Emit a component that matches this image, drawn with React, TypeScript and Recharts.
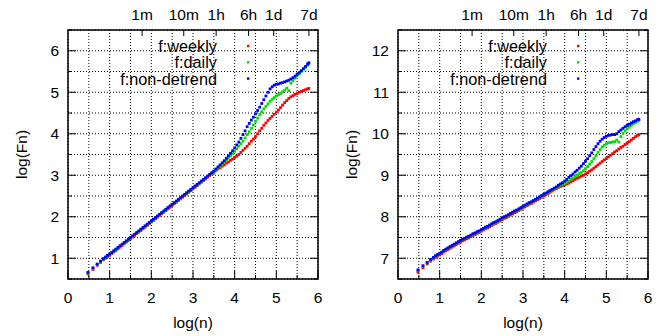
import React from 'react';
import { ScatterChart, Scatter, XAxis, YAxis, CartesianGrid, ReferenceArea } from 'recharts';

// log(n) sample positions
const LOGN = [0.48, 0.6, 0.7, 0.78, 0.85, 0.9, 0.95,
  1.0, 1.05, 1.1, 1.15, 1.2, 1.25, 1.3, 1.35, 1.4, 1.45,
  1.5, 1.55, 1.6, 1.65, 1.7, 1.75, 1.8, 1.85, 1.9, 1.95,
  2.0, 2.05, 2.1, 2.15, 2.2, 2.25, 2.3, 2.35, 2.4, 2.45,
  2.5, 2.55, 2.6, 2.65, 2.7, 2.75, 2.8, 2.85, 2.9, 2.95,
  3.0, 3.05, 3.1, 3.15, 3.2, 3.25, 3.3, 3.35, 3.4, 3.45,
  3.5, 3.55, 3.6, 3.65, 3.7, 3.75, 3.8, 3.85, 3.9, 3.95,
  4.0, 4.05, 4.1, 4.15, 4.2, 4.25, 4.3, 4.35, 4.4, 4.45,
  4.5, 4.55, 4.6, 4.65, 4.7, 4.75, 4.8, 4.85, 4.9, 4.95,
  5.0, 5.05, 5.1, 5.15, 5.2, 5.25, 5.3, 5.35, 5.4, 5.45,
  5.5, 5.55, 5.6, 5.65, 5.7, 5.75,
  5.78];

// Left panel
const LEFT_WEEKLY = [0.62, 0.73, 0.83, 0.90, 0.96, 1.00, 1.04,
  1.07, 1.11, 1.15, 1.19, 1.23, 1.27, 1.31, 1.35, 1.39, 1.43,
  1.47, 1.51, 1.55, 1.59, 1.63, 1.67, 1.71, 1.75, 1.79, 1.83,
  1.87, 1.91, 1.95, 1.99, 2.03, 2.07, 2.11, 2.15, 2.19, 2.23,
  2.27, 2.31, 2.35, 2.39, 2.43, 2.47, 2.51, 2.55, 2.59, 2.63,
  2.67, 2.71, 2.75, 2.79, 2.83, 2.87, 2.91, 2.95, 2.99, 3.03,
  3.07, 3.11, 3.15, 3.18, 3.22, 3.25, 3.29, 3.32, 3.36, 3.39,
  3.43, 3.46, 3.50, 3.55, 3.60, 3.65, 3.70, 3.76, 3.82, 3.87,
  3.93, 4.00, 4.07, 4.13, 4.20, 4.26, 4.32, 4.37, 4.42, 4.47,
  4.52, 4.57, 4.63, 4.69, 4.75, 4.80, 4.85, 4.89, 4.92, 4.95,
  4.97, 5.00, 5.02, 5.04, 5.06, 5.08,
  5.09];
const LEFT_DAILY = [0.64, 0.75, 0.85, 0.92, 0.98, 1.02, 1.06,
  1.09, 1.13, 1.17, 1.21, 1.25, 1.29, 1.33, 1.37, 1.41, 1.45,
  1.49, 1.53, 1.57, 1.61, 1.65, 1.69, 1.73, 1.77, 1.81, 1.85,
  1.89, 1.93, 1.97, 2.01, 2.05, 2.09, 2.13, 2.17, 2.21, 2.25,
  2.29, 2.33, 2.37, 2.41, 2.45, 2.49, 2.53, 2.57, 2.61, 2.65,
  2.69, 2.73, 2.77, 2.81, 2.85, 2.89, 2.93, 2.97, 3.01, 3.05,
  3.08, 3.12, 3.17, 3.21, 3.26, 3.31, 3.36, 3.41, 3.47, 3.52,
  3.58, 3.64, 3.70, 3.76, 3.82, 3.90, 3.98, 4.05, 4.13, 4.21,
  4.30, 4.38, 4.46, 4.53, 4.60, 4.66, 4.72, 4.78, 4.83, 4.87,
  4.91, 4.94, 4.97, 5.01, 5.05, 5.10, 5.04, 5.22, 5.28, 5.34,
  5.40, 5.45, 5.50, 5.55, 5.60, 5.65,
  5.68];
const LEFT_NONDETREND = [0.66, 0.77, 0.86, 0.93, 0.99, 1.03, 1.07,
  1.10, 1.14, 1.18, 1.22, 1.26, 1.30, 1.34, 1.38, 1.42, 1.46,
  1.50, 1.54, 1.58, 1.62, 1.66, 1.70, 1.74, 1.78, 1.82, 1.86,
  1.90, 1.94, 1.98, 2.02, 2.06, 2.10, 2.14, 2.18, 2.22, 2.26,
  2.30, 2.34, 2.38, 2.42, 2.46, 2.50, 2.54, 2.58, 2.62, 2.66,
  2.70, 2.74, 2.78, 2.82, 2.86, 2.90, 2.94, 2.98, 3.02, 3.06,
  3.10, 3.15, 3.20, 3.25, 3.30, 3.35, 3.41, 3.47, 3.53, 3.59,
  3.66, 3.73, 3.80, 3.89, 3.98, 4.07, 4.17, 4.25, 4.33, 4.40,
  4.48, 4.56, 4.64, 4.73, 4.82, 4.91, 5.00, 5.08, 5.13, 5.17,
  5.19, 5.20, 5.22, 5.23, 5.25, 5.27, 5.29, 5.32, 5.35, 5.39,
  5.43, 5.47, 5.52, 5.57, 5.62, 5.68,
  5.71];

// Right panel
const RIGHT_WEEKLY = [6.66, 6.77, 6.86, 6.93, 6.98, 7.02, 7.05,
  7.08, 7.11, 7.15, 7.18, 7.21, 7.24, 7.27, 7.30, 7.33, 7.36,
  7.39, 7.42, 7.44, 7.47, 7.49, 7.52, 7.55, 7.57, 7.60, 7.62,
  7.65, 7.68, 7.71, 7.73, 7.76, 7.79, 7.82, 7.84, 7.87, 7.90,
  7.93, 7.96, 7.98, 8.01, 8.04, 8.07, 8.10, 8.12, 8.15, 8.18,
  8.21, 8.24, 8.27, 8.30, 8.32, 8.35, 8.38, 8.41, 8.44, 8.47,
  8.50, 8.53, 8.56, 8.59, 8.62, 8.65, 8.68, 8.71, 8.73, 8.75,
  8.77, 8.79, 8.81, 8.84, 8.87, 8.90, 8.93, 8.95, 8.98, 9.00,
  9.03, 9.06, 9.10, 9.13, 9.17, 9.21, 9.25, 9.29, 9.33, 9.37,
  9.40, 9.44, 9.48, 9.52, 9.56, 9.59, 9.63, 9.67, 9.70, 9.74,
  9.77, 9.81, 9.85, 9.89, 9.93, 9.96,
  9.98];
const RIGHT_DAILY = [6.71, 6.81, 6.89, 6.96, 7.01, 7.05, 7.08,
  7.11, 7.14, 7.18, 7.21, 7.24, 7.27, 7.30, 7.33, 7.36, 7.39,
  7.42, 7.45, 7.47, 7.50, 7.52, 7.55, 7.58, 7.60, 7.63, 7.65,
  7.68, 7.71, 7.74, 7.76, 7.79, 7.82, 7.85, 7.87, 7.90, 7.93,
  7.96, 7.99, 8.01, 8.04, 8.07, 8.10, 8.13, 8.15, 8.18, 8.21,
  8.24, 8.27, 8.30, 8.33, 8.35, 8.38, 8.41, 8.44, 8.47, 8.50,
  8.53, 8.56, 8.59, 8.62, 8.64, 8.67, 8.70, 8.74, 8.76, 8.78,
  8.80, 8.83, 8.86, 8.90, 8.93, 8.97, 9.00, 9.04, 9.07, 9.11,
  9.16, 9.21, 9.27, 9.33, 9.40, 9.47, 9.55, 9.62, 9.68, 9.72,
  9.76, 9.78, 9.79, 9.80, 9.81, 9.85, 9.80, 9.93, 10.01, 10.07,
  10.12, 10.16, 10.20, 10.24, 10.27, 10.30,
  10.32];
const RIGHT_NONDETREND = [6.72, 6.82, 6.90, 6.97, 7.02, 7.06, 7.09,
  7.12, 7.15, 7.19, 7.22, 7.25, 7.28, 7.31, 7.34, 7.37, 7.40,
  7.43, 7.46, 7.48, 7.51, 7.53, 7.56, 7.59, 7.61, 7.64, 7.66,
  7.69, 7.72, 7.75, 7.77, 7.80, 7.83, 7.86, 7.88, 7.91, 7.94,
  7.97, 8.00, 8.02, 8.05, 8.08, 8.11, 8.14, 8.16, 8.19, 8.22,
  8.25, 8.28, 8.31, 8.34, 8.36, 8.39, 8.42, 8.45, 8.48, 8.51,
  8.54, 8.57, 8.60, 8.63, 8.66, 8.69, 8.72, 8.76, 8.79, 8.82,
  8.86, 8.90, 8.95, 8.99, 9.03, 9.08, 9.12, 9.17, 9.22, 9.28,
  9.34, 9.40, 9.47, 9.54, 9.62, 9.69, 9.76, 9.82, 9.87, 9.91,
  9.94, 9.96, 9.97, 9.98, 9.98, 10.00, 10.05, 10.09, 10.13, 10.17,
  10.20, 10.23, 10.26, 10.29, 10.31, 10.34,
  10.35];

const X_TICKS = [0, 0.5, 1, 1.5, 2, 2.5, 3, 3.5, 4, 4.5, 5, 5.5, 6];
const LEFT_Y_TICKS = [0.5, 1, 1.5, 2, 2.5, 3, 3.5, 4, 4.5, 5, 5.5, 6, 6.5];
const RIGHT_Y_TICKS = [6.5, 7, 7.5, 8, 8.5, 9, 9.5, 10, 10.5, 11, 11.5, 12, 12.5];
const TIME_TICK_POS = [1.778, 2.778, 3.556, 4.334, 4.937, 5.782];
const TIME_TICK_LABELS = ['1m', '10m', '1h', '6h', '1d', '7d'];
const SERIES_NAMES = ['f:weekly', 'f:daily', 'f:non-detrend'];
const SERIES_COLORS = ['#ff0000', '#00e000', '#0000ff'];

const FONT = '"Liberation Sans", Arial, Helvetica, sans-serif';
const FS = 15.5;
const LFS = 16.3;
const CW = 336;
const CH = 336;
const M = { top: 8, right: 18, bottom: 27, left: 8 };
const YAW = 60;
const XAH = 30;
const TAH = 22;
const PL = M.left + YAW;
const PR = CW - M.right;
const PT = M.top + TAH;
const PB = CH - M.bottom - XAH;

const isMajor = (v: number) => Math.abs(v - Math.round(v)) < 1e-6;

const BottomTick = (p: any) => {
  const v = p.payload.value;
  const x = p.x;
  const major = isMajor(v);
  return (
    <g>
      <line x1={x} x2={x} y1={PB} y2={PB - (major ? 8 : 4)} stroke="#000" strokeWidth={1} />
      {major && (
        <text x={x} y={PB + 18} textAnchor="middle" dominantBaseline="central" fontSize={FS} fontFamily={FONT} fill="#000">
          {v}
        </text>
      )}
    </g>
  );
};

const TopTick = (p: any) => {
  const v = p.payload.value;
  const x = p.x;
  const idx = TIME_TICK_POS.findIndex((t) => Math.abs(t - v) < 1e-6);
  return (
    <g>
      <line x1={x} x2={x} y1={PT} y2={PT + 6} stroke="#000" strokeWidth={1} />
      <text x={x} y={14} textAnchor="middle" dominantBaseline="central" fontSize={FS} fontFamily={FONT} fill="#000">
        {idx >= 0 ? TIME_TICK_LABELS[idx] : ''}
      </text>
    </g>
  );
};

const LeftTick = (p: any) => {
  const v = p.payload.value;
  const y = p.y;
  const major = isMajor(v);
  const len = major ? 8 : 4;
  return (
    <g>
      <line x1={PL} x2={PL + len} y1={y} y2={y} stroke="#000" strokeWidth={1} />
      <line x1={PR} x2={PR - len} y1={y} y2={y} stroke="#000" strokeWidth={1} />
      {major && (
        <text x={PL - 9} y={y} textAnchor="end" dominantBaseline="central" fontSize={FS} fontFamily={FONT} fill="#000">
          {v}
        </text>
      )}
    </g>
  );
};

const makeDot = (color: string) => (p: any) => (
  <rect x={p.cx - 1.4} y={p.cy - 1.4} width={2.8} height={2.8} fill={color} />
);
const NoDot = () => <g />;

const zip = (xs: number[], ys: number[]) => xs.map((x, i) => ({ x, y: ys[i] }));

type PanelProps = { left: number; yTicks: number[]; series: number[][] };

const Panel = ({ left, yTicks, series }: PanelProps) => {
  const yMin = yTicks[0];
  const yMax = yTicks[yTicks.length - 1];
  return (
    <div style={{ position: 'absolute', left, top: 0, width: CW, height: CH }}>
      <ScatterChart width={CW} height={CH} margin={M}>
        <CartesianGrid stroke="#000" strokeDasharray="1 2" strokeWidth={1} />
        <XAxis type="number" dataKey="x" domain={[0, 6]} ticks={X_TICKS} height={XAH} axisLine={false} tickLine={false} tick={BottomTick} interval={0} />
        <XAxis xAxisId="top" orientation="top" type="number" dataKey="x" domain={[0, 6]} ticks={TIME_TICK_POS} height={TAH} axisLine={false} tickLine={false} tick={TopTick} interval={0} />
        <YAxis type="number" dataKey="y" domain={[yMin, yMax]} ticks={yTicks} width={YAW} axisLine={false} tickLine={false} tick={LeftTick} interval={0} />
        <Scatter xAxisId="top" data={zip(LOGN, series[0])} shape={NoDot} isAnimationActive={false} legendType="none" />
        {series.map((ys, i) => (
          <Scatter key={SERIES_NAMES[i]} name={SERIES_NAMES[i]} data={zip(LOGN, ys)} fill={SERIES_COLORS[i]} shape={makeDot(SERIES_COLORS[i])} isAnimationActive={false} />
        ))}
        <ReferenceArea x1={0} x2={6} y1={yMin} y2={yMax} fill="none" fillOpacity={0} stroke="#000" strokeWidth={1.5} ifOverflow="visible" />
      </ScatterChart>
      <svg width={CW} height={CH} style={{ position: 'absolute', left: 0, top: 0, pointerEvents: 'none' }}>
        {SERIES_NAMES.map((name, i) => (
          <g key={name}>
            <text x={217} y={46 + i * 16.3} textAnchor="end" dominantBaseline="central" fontSize={LFS} fontFamily={FONT} fill="#000">
              {name}
            </text>
            <rect x={247} y={46 + i * 16.3 - 1.2} width={2.4} height={2.4} fill={SERIES_COLORS[i]} />
          </g>
        ))}
        <text x={(PL + PR) / 2} y={322} textAnchor="middle" dominantBaseline="central" fontSize={FS} fontFamily={FONT} fill="#000">
          log(n)
        </text>
        <text x={21} y={(PT + PB) / 2} textAnchor="middle" dominantBaseline="central" fontSize={FS} fontFamily={FONT} fill="#000" transform={`rotate(-90 21 ${(PT + PB) / 2})`}>
          log(Fn)
        </text>
      </svg>
    </div>
  );
};

export default function App() {
  return (
    <div style={{ position: 'absolute', left: 0, top: 0, width: 671, height: 336, background: '#fff' }}>
      <Panel left={0} yTicks={LEFT_Y_TICKS} series={[LEFT_WEEKLY, LEFT_DAILY, LEFT_NONDETREND]} />
      <Panel left={330} yTicks={RIGHT_Y_TICKS} series={[RIGHT_WEEKLY, RIGHT_DAILY, RIGHT_NONDETREND]} />
    </div>
  );
}
